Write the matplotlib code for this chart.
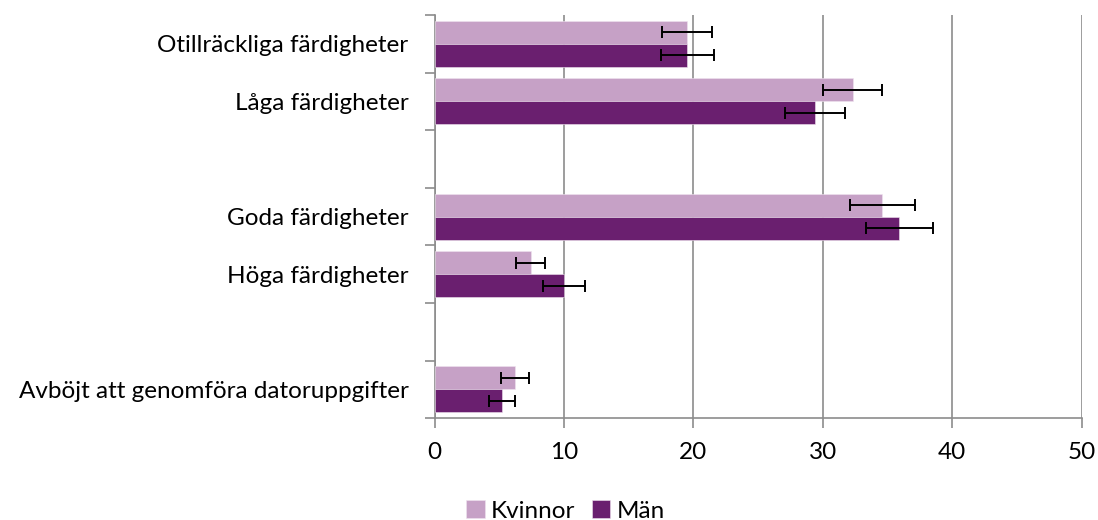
import matplotlib
matplotlib.use("Agg")
import matplotlib.pyplot as plt
import numpy as np

categories = ["Otillräckliga färdigheter", "Låga färdigheter", "",
              "Goda färdigheter", "Höga färdigheter", "",
              "Avböjt att genomföra datoruppgifter"]
kvinnor = [19.5, 32.3, None, 34.6, 7.4, None, 6.2]
man = [19.5, 29.4, None, 35.9, 10.0, None, 5.2]
kvinnor_err = [1.95, 2.3, None, 2.5, 1.15, None, 1.05]
man_err = [2.05, 2.3, None, 2.6, 1.65, None, 1.0]
series_names = ["Kvinnor", "Män"]
xticks = [0, 10, 20, 30, 40, 50]

plt.rcParams['font.family'] = ['Lato', 'DejaVu Sans']
fig = plt.figure(figsize=(10.98, 5.20), dpi=100)
ax = fig.add_axes([0.396, 0.196, 0.589, 0.775])

c_k = "#C6A1C6"
c_m = "#6A1F6F"
h = 0.4
idx = [i for i, v in enumerate(kvinnor) if v is not None]
y = np.array(idx, dtype=float)
kv = [kvinnor[i] for i in idx]
mv = [man[i] for i in idx]
ke = [kvinnor_err[i] for i in idx]
me = [man_err[i] for i in idx]

ax.barh(y - h / 2, kv, height=h, color=c_k, edgecolor="#efe4ef", linewidth=0.4, label=series_names[0], zorder=3)
ax.barh(y + h / 2, mv, height=h, color=c_m, edgecolor="#efe4ef", linewidth=0.4, label=series_names[1], zorder=3)
ax.errorbar(kv, y - h / 2, xerr=ke, fmt="none", ecolor="black", elinewidth=1.4, capsize=4.2, capthick=1.4, zorder=4)
ax.errorbar(mv, y + h / 2, xerr=me, fmt="none", ecolor="black", elinewidth=1.4, capsize=4.2, capthick=1.4, zorder=4)

fs = 17.5
ax.set_ylim(len(categories) - 0.5, -0.5)
ax.set_xlim(0, 50)
ax.set_xticks(xticks)
ax.set_xticklabels([str(t) for t in xticks], fontsize=fs)
ax.set_yticks(range(len(categories)))
ax.set_yticklabels(categories, fontsize=fs)
ax.tick_params(axis="y", which="major", length=0, pad=19)
ax.set_yticks(np.arange(-0.5, len(categories), 1.0), minor=True)
ax.tick_params(axis="y", which="minor", length=7, width=1.2, color="#8c8c8c")
ax.tick_params(axis="x", which="major", length=7, width=1.2, color="#8c8c8c", pad=10)

ax.grid(axis="x", color="#8c8c8c", linewidth=1.2, zorder=0)
for s in ["top", "right"]:
    ax.spines[s].set_visible(False)
for s in ["left", "bottom"]:
    ax.spines[s].set_color("#8c8c8c")
    ax.spines[s].set_linewidth(1.2)

fig.legend(loc="lower center", bbox_to_anchor=(0.515, -0.045), ncol=2, frameon=False,
           fontsize=fs, handlelength=0.75, handleheight=0.75, handletextpad=0.25, columnspacing=0.7)

fig.savefig("out.png", dpi=100)
